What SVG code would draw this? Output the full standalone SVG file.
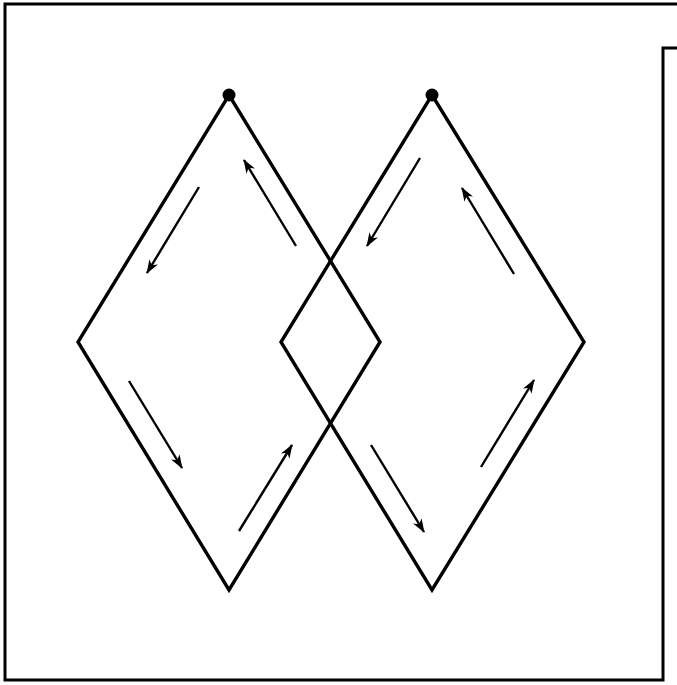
<svg xmlns="http://www.w3.org/2000/svg" width="677" height="685" viewBox="0 0 677 685">
<defs>
<marker id="ah" viewBox="0 0 14 10" refX="13" refY="5" markerWidth="14" markerHeight="10" markerUnits="userSpaceOnUse" orient="auto">
<path d="M0,0 L14,5 L0,10 L4,5 Z" fill="#000"/>
</marker>
<style>
.frame{fill:none;stroke:#000;stroke-width:3}
.dia{fill:none;stroke:#000;stroke-width:3.4;stroke-linejoin:miter}
.arr{stroke:#000;stroke-width:2.4;marker-end:url(#ah)}
</style>
</defs>
<rect width="677" height="685" fill="#fff"/>
<g id="frame">
<path class="frame" d="M677,4 L5,4 L5,680 L663,680 L663,48 L677,48"/>
</g>
<g id="diamond-left">
<path class="dia" d="M229,95 L380,342 L229,590 L78,342 Z"/>
<circle cx="229" cy="95" r="6.5" fill="#000"/>
</g>
<g id="diamond-right">
<path class="dia" d="M432,95 L584,342 L432,590 L281,342 Z"/>
<circle cx="432" cy="95" r="6.5" fill="#000"/>
</g>
<g id="connectors">
<line class="arr" x1="199" y1="187" x2="147" y2="273"/>
<line class="arr" x1="296" y1="246" x2="244" y2="160"/>
<line class="arr" x1="129" y1="381" x2="182" y2="468"/>
<line class="arr" x1="239" y1="531" x2="292" y2="445"/>
<line class="arr" x1="420" y1="158" x2="367" y2="246"/>
<line class="arr" x1="514" y1="274" x2="462" y2="188"/>
<line class="arr" x1="371" y1="445" x2="424" y2="532"/>
<line class="arr" x1="481" y1="467" x2="534" y2="380"/>
</g>
</svg>
